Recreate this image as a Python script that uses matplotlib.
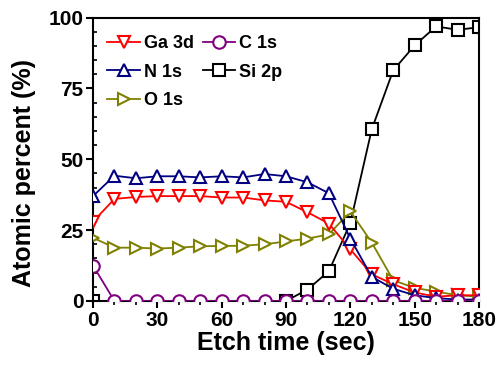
import matplotlib
matplotlib.use("Agg")
import matplotlib.pyplot as plt
import numpy as np
from matplotlib.ticker import MultipleLocator

plt.rcParams['font.family'] = ['Liberation Sans', 'DejaVu Sans']
plt.rcParams['font.weight'] = 'bold'

# etch time (sec)
time = [0, 10, 20, 30, 40, 50, 60, 70, 80, 90, 100, 110, 120, 130, 140, 150, 160, 170, 180]

ga_3d = [28, 36, 36.7, 37, 37, 37, 36.5, 36.5, 35.5, 35, 31.3, 27.3, 18.2, 9.4, 5.9, 3, 1.5, 2, 2]
n_1s = [37, 44.2, 43.3, 44, 44, 43.6, 44, 43.6, 44.8, 44, 41.9, 38, 22, 8.5, 4.3, 2, 1, 0.5, 0.5]
o_1s = [22.3, 18.8, 18.8, 18.5, 18.8, 19.3, 19.4, 19.5, 20, 21, 22, 23.5, 31.6, 20.6, 7.3, 4.6, 3.3, 2, 1.5]
c_1s = [12.5, 0, 0, 0, 0, 0, 0, 0, 0, 0, 0, 0, 0, 0, 0, 0, 0, 0, 0]
# Si points between 10 and 80 s are not visible in the figure
si_2p = [0, np.nan, np.nan, np.nan, np.nan, np.nan, np.nan, np.nan, np.nan, 0,
         4, 10.5, 27.5, 60.6, 81.4, 90.2, 96.9, 95.7, 96.6]

fig, ax = plt.subplots(figsize=(5.0, 3.67), dpi=100)
fig.subplots_adjust(left=0.186, right=0.958, top=0.952, bottom=0.18)

style = dict(markersize=9, markeredgewidth=1.5, markerfacecolor='white', linewidth=1.3)

ax.plot(time, si_2p, marker='s', color='black', label='Si 2p', zorder=2, **style)
ax.plot(time, o_1s, marker='>', color='#808000', label='O 1s', zorder=3, **style)
ax.plot(time, ga_3d, marker='v', color='red', label='Ga 3d', zorder=4, **style)
ax.plot(time, n_1s, marker='^', color='#000080', label='N 1s', zorder=5, **style)
ax.plot(time, c_1s, marker='o', color='#800080', label='C 1s', zorder=6, **style)

ax.set_xlim(0, 180)
ax.set_ylim(0, 100)
ax.xaxis.set_major_locator(MultipleLocator(30))
ax.xaxis.set_minor_locator(MultipleLocator(10))
ax.yaxis.set_major_locator(MultipleLocator(25))
ax.yaxis.set_minor_locator(MultipleLocator(5))

for s in ax.spines.values():
    s.set_linewidth(1.5)
ax.tick_params(which='major', direction='out', length=5, width=1.5, labelsize=15, pad=2)
ax.tick_params(axis='y', which='minor', direction='in', length=3, width=1.2)
ax.tick_params(axis='x', which='minor', direction='out', length=3, width=1.2)

ax.set_xlabel('Etch time (sec)', fontsize=18, fontweight='bold', labelpad=1)
ax.set_ylabel('Atomic percent (%)', fontsize=18, fontweight='bold')
ax.yaxis.set_label_coords(-0.148, 0.45)

handles, labels = ax.get_legend_handles_labels()
order = ['Ga 3d', 'N 1s', 'O 1s', 'C 1s', 'Si 2p']
h = [handles[labels.index(n)] for n in order]
leg = ax.legend(h, order, ncol=2, loc='upper left', frameon=False, fontsize=13,
                handlelength=1.8, handletextpad=0.2, columnspacing=0.5,
                labelspacing=0.65, borderaxespad=0.4, bbox_to_anchor=(0.0, 0.99))

fig.savefig('out.png', dpi=100)
